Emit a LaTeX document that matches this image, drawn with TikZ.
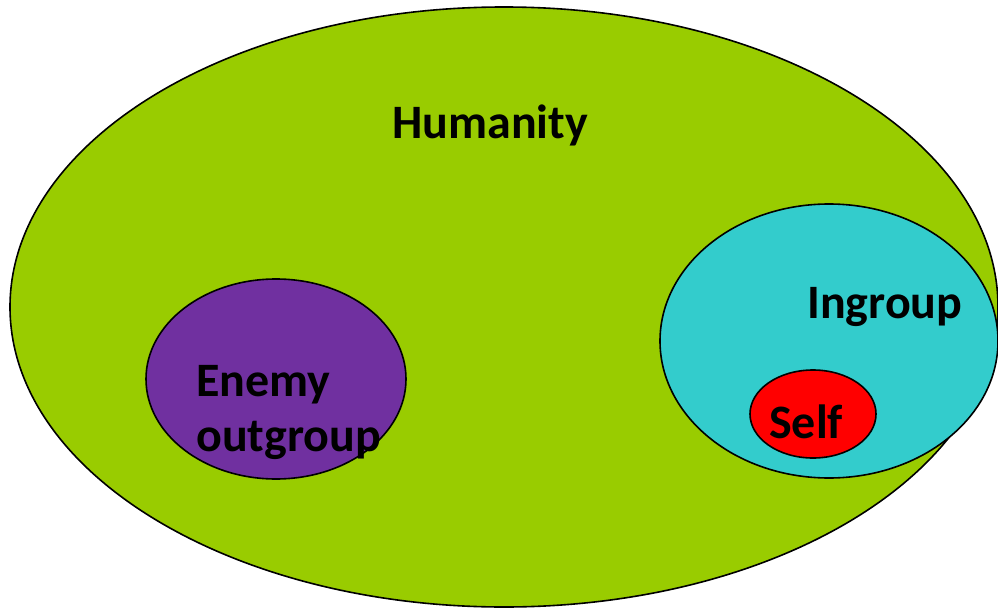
\documentclass[tikz,border=0pt]{standalone}
\usepackage{fontspec}
\setmainfont{Carlito}
\definecolor{humgreen}{HTML}{99CC00}
\definecolor{ingcyan}{HTML}{33CCCC}
\definecolor{enepurple}{HTML}{7030A0}
\definecolor{selfred}{HTML}{FF0000}
\tikzset{
  blob/.style={draw=black, line width=1.6pt},
  lbl/.style={font=\fontsize{48}{56}\selectfont\bfseries, text=black, inner sep=0pt, anchor=base west}
}
\begin{document}
\begin{tikzpicture}[x=1pt,y=-1pt]
\useasboundingbox (0,0) rectangle (998,610);
\clip (0,0) rectangle (998,610);
\fill[white] (0,0) rectangle (998,610);
\draw[blob, fill=humgreen] (504,307) ellipse [x radius=494, y radius=300];
\draw[blob, fill=enepurple] (276,379) ellipse [x radius=130, y radius=100];
\draw[blob, fill=ingcyan] (829,341) ellipse [x radius=169, y radius=137];
\draw[blob, fill=selfred] (813,414) ellipse [x radius=63, y radius=44];
\node[lbl] (hum) at (392,138) {Humanity};
\node[lbl] (ing) at (807,318) {Ingroup};
\node[lbl] (ene) at (196,396) {Enemy};
\node[lbl] (out) at (196,451) {outgroup};
\node[lbl] (self) at (769,438) {Self};
\end{tikzpicture}
\end{document}
